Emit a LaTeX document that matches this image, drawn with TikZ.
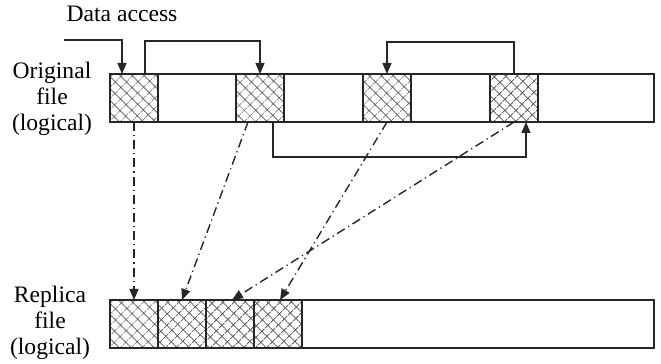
\documentclass[tikz,border=0pt]{standalone}
\usepackage{fontspec}
\setmainfont{Liberation Serif}
\usetikzlibrary{arrows.meta,patterns.meta}

\begin{document}
\begin{tikzpicture}
[x=0.5pt,y=-0.5pt,line width=0.7pt,draw=black!85,%
  every node/.style={inner sep=0pt,outer sep=0pt},%
  bar/.style={draw=black!85,anchor=north west,minimum width=272pt,minimum height=24pt},%
  blk/.style={draw=black!85,anchor=north west,minimum width=24pt,minimum height=24pt,
    pattern={Hatch[angle=45,distance=4pt,line width=0.45pt]},pattern color=black!65},%
  lbl/.style={align=center,font=\fontsize{11.8}{13}\selectfont},%
  link/.style={-{Triangle[length=5.5pt,width=4.5pt]}},%
  copyline/.style={-{Triangle[length=5.5pt,width=4.5pt]},dash pattern=on 4.5pt off 2pt on 0.6pt off 2pt}]
\useasboundingbox (0,0) rectangle (661,364);
\node[lbl] (acc) at (122,14) {Data access};
\node[lbl] (olbl) at (52,99) {Original\\file\\(logical)};
\node[lbl] (rlbl) at (50,323) {Replica\\file\\(logical)};

\node[bar] (orig) at (110,74) {};
\node[blk] (o1) at (110,74) {};
\node[blk] (o2) at (236,74) {};
\node[blk] (o3) at (363,74) {};
\node[blk] (o4) at (490,74) {};

\node[bar] (repl) at (110,300) {};
\node[blk] (r1) at (110,300) {};
\node[blk] (r2) at (158,300) {};
\node[blk] (r3) at (206,300) {};
\node[blk] (r4) at (254,300) {};

\coordinate (in) at (64,40);
\draw[link] (in) -| ([xshift=-6pt]o1.north);
\draw[link] ([xshift=5.5pt]o1.north) -- ++(0,16.5pt) -| (o2.north);
\draw[link] (o4.north) -- ++(0,16pt) -| (o3.north);
\draw[link] ([xshift=6.5pt]o2.south) -- ++(0,-17.5pt) -| ([xshift=6pt]o4.south);

\draw[copyline] (o1.south) -- (r1.north);
\draw[copyline] ([xshift=-6pt]o2.south) -- (r2.north);
\draw[copyline] (o3.south) -- ([xshift=1pt]r4.north);
\draw[copyline] (o4.south) -- ([xshift=1pt]r3.north);
\end{tikzpicture}
\end{document}
